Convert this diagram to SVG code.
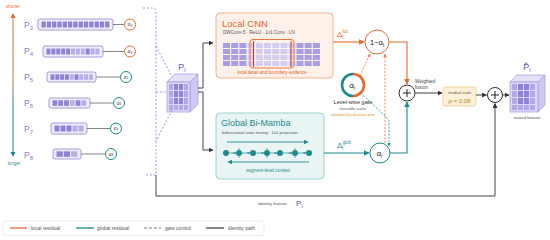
<svg xmlns="http://www.w3.org/2000/svg" width="550" height="240" viewBox="0 0 550 240">
<defs>
<style>
text{font-family:"Liberation Sans",Arial,sans-serif;}
.pl{fill:#8b74d8;font-size:8.5px;}
.bar{fill:#f1eefc;stroke:#9d8ee0;stroke-width:0.9;}
.cd{fill:#8f80d8;}
.cl{fill:#b9aeea;}
.lk{stroke:#666;stroke-width:0.8;fill:none;}
.ao{fill:#fff;stroke:#e8692f;stroke-width:1;}
.at{fill:#fff;stroke:#1f8a8a;stroke-width:1;}
.as{font-size:4.5px;fill:#333;text-anchor:middle;}
.pd{stroke:#8b74d8;stroke-width:0.8;stroke-dasharray:2,1.8;fill:none;}
.dk{stroke:#444;stroke-width:1;fill:none;}
.or{stroke:#e8692f;stroke-width:1.1;fill:none;}
.tl{stroke:#1f8a8a;stroke-width:1.1;fill:none;}
.od{stroke:#ee7a45;stroke-width:0.9;stroke-dasharray:2,1.5;fill:none;}
.td{stroke:#2a9a9a;stroke-width:0.9;stroke-dasharray:2,1.5;fill:none;}
.g1{fill:#a99de4;}
.g2{fill:#d4cdf2;}
.lg{font-size:5px;fill:#555;}
</style>
<linearGradient id="lr" gradientUnits="userSpaceOnUse" x1="0" y1="14" x2="0" y2="156">
<stop offset="0" stop-color="#e8692f"/><stop offset="0.45" stop-color="#e8692f"/><stop offset="0.6" stop-color="#1f8a8a"/><stop offset="1" stop-color="#1f8a8a"/>
</linearGradient>
<marker id="mk" viewBox="0 0 10 10" refX="9" refY="5" markerWidth="5" markerHeight="5" orient="auto"><path d="M0,0L10,5L0,10z" fill="#333"/></marker>
<marker id="mo" viewBox="0 0 10 10" refX="9" refY="5" markerWidth="5" markerHeight="5" orient="auto"><path d="M0,0L10,5L0,10z" fill="#e8692f"/></marker>
<marker id="mt" viewBox="0 0 10 10" refX="9" refY="5" markerWidth="5" markerHeight="5" orient="auto"><path d="M0,0L10,5L0,10z" fill="#1f8a8a"/></marker>
<marker id="mos" viewBox="0 0 10 10" refX="9" refY="5" markerWidth="4" markerHeight="4" orient="auto"><path d="M0,0L10,5L0,10z" fill="#ee7a45"/></marker>
<marker id="mts" viewBox="0 0 10 10" refX="9" refY="5" markerWidth="4" markerHeight="4" orient="auto"><path d="M0,0L10,5L0,10z" fill="#2a9a9a"/></marker>
</defs>
<rect width="550" height="240" fill="#fff"/>

<g id="axis">
<text x="13" y="8" font-size="4.5" fill="#e8692f" text-anchor="middle">shorter</text>
<line x1="13" y1="16" x2="13" y2="154" stroke="url(#lr)" stroke-width="1"/>
<path d="M10.5,18L13,13L15.5,18z" fill="#e8692f"/>
<path d="M10.5,152L13,157L15.5,152z" fill="#1f8a8a"/>
<text x="14" y="165" font-size="4.5" fill="#1f8a8a" text-anchor="middle">longer</text>
</g>

<g id="level-P3">
<text class="pl" x="24" y="28">P<tspan font-size="6" dy="1.5">3</tspan></text>
<rect class="bar" x="38" y="19" width="75" height="11" rx="2"/>
<g class="cd">
<rect x="41.5" y="21.5" width="4.3" height="6"/><rect x="46.8" y="21.5" width="4.3" height="6"/><rect x="52.1" y="21.5" width="4.3" height="6"/><rect x="57.4" y="21.5" width="4.3" height="6"/><rect x="62.7" y="21.5" width="4.3" height="6"/><rect x="68" y="21.5" width="4.3" height="6"/><rect x="73.3" y="21.5" width="4.3" height="6"/><rect x="78.6" y="21.5" width="4.3" height="6"/><rect x="83.9" y="21.5" width="4.3" height="6"/><rect x="89.2" y="21.5" width="4.3" height="6"/><rect x="94.5" y="21.5" width="4.3" height="6"/><rect x="99.8" y="21.5" width="4.3" height="6"/><rect x="105.1" y="21.5" width="4.3" height="6"/>
</g>
<line class="lk" x1="113" y1="24.5" x2="124.5" y2="24.5"/>
<circle class="ao" cx="130" cy="24.5" r="5.5"/>
<text class="as" x="130" y="26">α<tspan font-size="3.2" dy="0.8">3</tspan></text>
</g>

<g id="level-P4">
<text class="pl" x="24" y="54">P<tspan font-size="6" dy="1.5">4</tspan></text>
<rect class="bar" x="43" y="46" width="60" height="11" rx="2"/>
<rect class="cd" x="46.5" y="48.5" width="4" height="6"/><rect class="cd" x="51.4" y="48.5" width="4" height="6"/><rect class="cd" x="56.3" y="48.5" width="4" height="6"/><rect class="cd" x="61.2" y="48.5" width="4" height="6"/><rect class="cd" x="66.1" y="48.5" width="4" height="6"/>
<rect class="cl" x="71" y="48.5" width="4" height="6"/><rect class="cl" x="75.9" y="48.5" width="4" height="6"/><rect class="cl" x="80.8" y="48.5" width="4" height="6"/><rect class="cd" x="85.7" y="48.5" width="4" height="6"/><rect class="cl" x="90.6" y="48.5" width="4" height="6"/><rect class="cl" x="95.5" y="48.5" width="4" height="6"/>
<line class="lk" x1="103" y1="51.5" x2="124.5" y2="51.5"/>
<circle class="ao" cx="130" cy="51.5" r="5.5"/>
<text class="as" x="130" y="53">α<tspan font-size="3.2" dy="0.8">4</tspan></text>
</g>

<g id="level-P5">
<text class="pl" x="24" y="80">P<tspan font-size="6" dy="1.5">5</tspan></text>
<rect class="bar" x="47" y="72" width="49" height="10" rx="2"/>
<rect class="cd" x="50.5" y="74.3" width="4" height="5.5"/><rect class="cd" x="55.3" y="74.3" width="4" height="5.5"/><rect class="cd" x="60.1" y="74.3" width="4" height="5.5"/><rect class="cd" x="64.9" y="74.3" width="4" height="5.5"/><rect class="cl" x="69.7" y="74.3" width="4" height="5.5"/><rect class="cd" x="74.5" y="74.3" width="4" height="5.5"/><rect class="cl" x="79.3" y="74.3" width="4" height="5.5"/><rect class="cl" x="84.1" y="74.3" width="4" height="5.5"/><rect class="cl" x="88.9" y="74.3" width="4" height="5.5"/>
<line class="lk" x1="96" y1="77" x2="120.5" y2="77"/>
<circle class="at" cx="126" cy="77" r="5.5"/>
<text class="as" x="126" y="78.5">α<tspan font-size="3.2" dy="0.8">5</tspan></text>
</g>

<g id="level-P6">
<text class="pl" x="24" y="106">P<tspan font-size="6" dy="1.5">5</tspan></text>
<rect class="bar" x="49" y="98" width="41" height="10" rx="2"/>
<rect class="cd" x="52.5" y="100.3" width="4.8" height="5.5"/><rect class="cd" x="58.3" y="100.3" width="4.8" height="5.5"/><rect class="cd" x="64.1" y="100.3" width="4.8" height="5.5"/><rect class="cl" x="69.9" y="100.3" width="4.8" height="5.5"/><rect class="cd" x="75.7" y="100.3" width="4.8" height="5.5"/><rect class="cl" x="81.5" y="100.3" width="4.8" height="5.5"/>
<line class="lk" x1="90" y1="103" x2="113.5" y2="103"/>
<circle class="at" cx="119" cy="103" r="5.5"/>
<text class="as" x="119" y="104.5">α<tspan font-size="3.2" dy="0.8">6</tspan></text>
</g>

<g id="level-P7">
<text class="pl" x="24" y="132">P<tspan font-size="6" dy="1.5">7</tspan></text>
<rect class="bar" x="51" y="123" width="36" height="11" rx="2"/>
<rect class="cd" x="54.5" y="125.5" width="5" height="6"/><rect class="cd" x="60.5" y="125.5" width="5" height="6"/><rect class="cd" x="66.5" y="125.5" width="5" height="6"/><rect class="cl" x="72.5" y="125.5" width="5" height="6"/><rect class="cl" x="78.5" y="125.5" width="5" height="6"/>
<line class="lk" x1="87" y1="128.5" x2="110.5" y2="128.5"/>
<circle class="at" cx="116" cy="128.5" r="5.5"/>
<text class="as" x="116" y="130">α<tspan font-size="3.2" dy="0.8">7</tspan></text>
</g>

<g id="level-P8">
<text class="pl" x="24" y="158">P<tspan font-size="6" dy="1.5">8</tspan></text>
<rect class="bar" x="53" y="149" width="28" height="10" rx="2"/>
<rect class="cd" x="56.5" y="151.3" width="6.3" height="5.5"/><rect class="cd" x="63.8" y="151.3" width="6.3" height="5.5"/><rect class="cl" x="71.1" y="151.3" width="6.3" height="5.5"/>
<line class="lk" x1="81" y1="154" x2="105.5" y2="154"/>
<circle class="at" cx="111" cy="154" r="5.5"/>
<text class="as" x="111" y="155.5">α<tspan font-size="3.2" dy="0.8">8</tspan></text>
</g>

<g id="input-cube">
<text x="182" y="70" font-family="Liberation Serif,serif" font-size="9" fill="#6a55c0" text-anchor="middle">P<tspan font-size="6" dy="2">l</tspan></text>
<path d="M167,82L175,74L198,74L190,82z" fill="#e6e0f8" stroke="#a597e2" stroke-width="0.7"/>
<path d="M190,82L198,74L198,104L190,112z" fill="#cfc6f1" stroke="#a597e2" stroke-width="0.7"/>
<rect x="167" y="82" width="23" height="30" fill="#ddd6f6" stroke="#a597e2" stroke-width="0.7"/>
<g fill="#b3a7e8">
<rect x="169" y="84" width="4" height="6"/><rect x="174" y="84" width="4" height="6" fill="#8f80d8"/><rect x="179" y="84" width="4" height="6" fill="#8f80d8"/><rect x="184" y="84" width="4" height="6"/>
<rect x="169" y="91" width="4" height="6"/><rect x="174" y="91" width="4" height="6" fill="#8f80d8"/><rect x="179" y="91" width="4" height="6" fill="#8f80d8"/><rect x="184" y="91" width="4" height="6"/>
<rect x="169" y="98" width="4" height="6"/><rect x="174" y="98" width="4" height="6" fill="#8f80d8"/><rect x="179" y="98" width="4" height="6" fill="#8f80d8"/><rect x="184" y="98" width="4" height="6"/>
<rect x="169" y="105" width="4" height="5"/><rect x="174" y="105" width="4" height="5"/><rect x="179" y="105" width="4" height="5"/><rect x="184" y="105" width="4" height="5"/>
</g>
</g>

<g id="local-cnn">
<rect x="216" y="13" width="117" height="65" rx="4" fill="#fdf1ea" stroke="#f2ab85" stroke-width="0.9"/>
<text x="222" y="26.5" font-size="9.5" fill="#e8622a">Local CNN</text>
<text x="223" y="34" font-size="4.6" fill="#555">DWConv-5  ·  ReLU  ·  1x1 Conv  ·  LN</text>
<g>
<g class="g1">
<rect x="223" y="43" width="7" height="5"/><rect x="231.2" y="43" width="7" height="5"/><rect x="239.4" y="43" width="7" height="5"/>
<rect x="223" y="49" width="7" height="5"/><rect x="231.2" y="49" width="7" height="5"/><rect x="239.4" y="49" width="7" height="5"/>
<rect x="223" y="55" width="7" height="5"/><rect x="231.2" y="55" width="7" height="5"/><rect x="239.4" y="55" width="7" height="5"/>
<rect x="223" y="61" width="7" height="5"/><rect x="231.2" y="61" width="7" height="5"/><rect x="239.4" y="61" width="7" height="5"/>
<rect x="296.5" y="43" width="7" height="5"/><rect x="304.7" y="43" width="7" height="5"/><rect x="312.9" y="43" width="7" height="5"/>
<rect x="296.5" y="49" width="7" height="5"/><rect x="304.7" y="49" width="7" height="5"/><rect x="312.9" y="49" width="7" height="5"/>
<rect x="296.5" y="55" width="7" height="5"/><rect x="304.7" y="55" width="7" height="5"/><rect x="312.9" y="55" width="7" height="5"/>
<rect x="296.5" y="61" width="7" height="5"/><rect x="304.7" y="61" width="7" height="5"/><rect x="312.9" y="61" width="7" height="5"/>
</g>
<g class="g2">
<rect x="247.6" y="43" width="7" height="5"/><rect x="255.8" y="43" width="7" height="5"/><rect x="264" y="43" width="7" height="5"/><rect x="272.2" y="43" width="7" height="5"/><rect x="280.4" y="43" width="7" height="5"/><rect x="288.6" y="43" width="7" height="5"/>
<rect x="247.6" y="49" width="7" height="5"/><rect x="255.8" y="49" width="7" height="5"/><rect x="264" y="49" width="7" height="5"/><rect x="272.2" y="49" width="7" height="5"/><rect x="280.4" y="49" width="7" height="5"/><rect x="288.6" y="49" width="7" height="5"/>
<rect x="247.6" y="55" width="7" height="5"/><rect x="255.8" y="55" width="7" height="5"/><rect x="264" y="55" width="7" height="5"/><rect x="272.2" y="55" width="7" height="5"/><rect x="280.4" y="55" width="7" height="5"/><rect x="288.6" y="55" width="7" height="5"/>
<rect x="247.6" y="61" width="7" height="5"/><rect x="255.8" y="61" width="7" height="5"/><rect x="264" y="61" width="7" height="5"/><rect x="272.2" y="61" width="7" height="5"/><rect x="280.4" y="61" width="7" height="5"/><rect x="288.6" y="61" width="7" height="5"/>
</g>
</g>
<rect x="250" y="39.5" width="44" height="28.5" rx="3" fill="none" stroke="#e8692f" stroke-width="0.9"/>
<line x1="253.5" y1="41" x2="253.5" y2="67" stroke="#c0392b" stroke-width="1"/>
<line x1="291" y1="41" x2="291" y2="67" stroke="#c0392b" stroke-width="1"/>
<text x="272" y="74" font-size="4.5" fill="#e8622a" text-anchor="middle">local detail and boundary evidence</text>
</g>

<g id="global-bimamba">
<rect x="216" y="113" width="108" height="66" rx="4" fill="#e9f5f5" stroke="#93cccc" stroke-width="0.9"/>
<text x="221" y="126" font-size="9" fill="#1f8a8a">Global Bi-Mamba</text>
<text x="222" y="133.5" font-size="4.2" fill="#555">bidirectional state mixing  ·  1x1 projection</text>
<line x1="227" y1="142" x2="308" y2="142" stroke="#1f8a8a" stroke-width="0.9" marker-end="url(#mt)"/>
<line x1="309" y1="162" x2="228" y2="162" stroke="#1f8a8a" stroke-width="0.9" marker-end="url(#mt)"/>
<g stroke="#1f8a8a" stroke-width="0.7">
<line x1="239" y1="148" x2="239" y2="158"/><line x1="267" y1="148" x2="267" y2="158"/><line x1="295" y1="148" x2="295" y2="158"/>
</g>
<g stroke="#1f8a8a" stroke-width="0.7" marker-end="url(#mts)">
<line x1="229" y1="153" x2="236" y2="153"/><line x1="242" y1="153" x2="250" y2="153"/><line x1="256" y1="153" x2="264" y2="153"/><line x1="270" y1="153" x2="277" y2="153"/><line x1="283" y1="153" x2="292" y2="153"/><line x1="298" y1="153" x2="306" y2="153"/>
</g>
<g fill="#1f8a8a">
<circle cx="226" cy="153" r="3"/><circle cx="239" cy="153" r="3"/><circle cx="253" cy="153" r="3"/><circle cx="267" cy="153" r="3"/><circle cx="280" cy="153" r="3"/><circle cx="295" cy="153" r="3"/><circle cx="309" cy="153" r="3"/>
</g>
<text x="268" y="172" font-size="4.5" fill="#1f8a8a" text-anchor="middle">segment-level context</text>
</g>

<g id="level-gate">
<circle cx="353" cy="85" r="11" fill="#fff"/>
<path d="M353,74A11,11 0 0 0 353,96" fill="none" stroke="#1f8a8a" stroke-width="2.6"/>
<path d="M353,74A11,11 0 0 1 353,96" fill="none" stroke="#e8692f" stroke-width="2.6"/>
<text x="352" y="88" font-family="Liberation Serif,serif" font-size="8" fill="#222" text-anchor="middle">α<tspan font-size="5" dy="1.5">l</tspan></text>
<text x="353" y="104" font-size="5.6" fill="#333" text-anchor="middle">Level-wise gate</text>
<text x="353" y="110" font-size="3.8" fill="#666" text-anchor="middle">learnable scalar</text>
<text x="353" y="115.5" font-size="3.8" fill="#d9962e" text-anchor="middle">initialized by duration prior</text>
</g>

<g id="one-minus-alpha">
<circle cx="377" cy="42" r="12" fill="#fff" stroke="#e8692f" stroke-width="1"/>
<text x="377" y="45" font-family="Liberation Serif,serif" font-size="7.5" fill="#222" text-anchor="middle">1−α<tspan font-size="5" dy="1.5">l</tspan></text>
</g>

<g id="alpha">
<circle cx="380" cy="153" r="10" fill="#fff" stroke="#1f8a8a" stroke-width="1"/>
<text x="379.5" y="156" font-family="Liberation Serif,serif" font-size="7.5" fill="#222" text-anchor="middle">α<tspan font-size="5" dy="1.5">l</tspan></text>
</g>

<g id="fusion-plus">
<circle cx="407" cy="93" r="8" fill="#fff" stroke="#333" stroke-width="1"/>
<path d="M403,93H411M407,89V97" stroke="#222" stroke-width="1"/>
<text x="415" y="82.5" font-size="4.8" fill="#444">Weighted</text>
<text x="415" y="88.5" font-size="4.8" fill="#444">fusion</text>
</g>

<g id="residual-scale">
<rect x="443" y="87" width="33" height="19" rx="2.5" fill="#fdf1d8" stroke="#e8c98a" stroke-width="0.8"/>
<text x="459.5" y="94" font-size="3.8" fill="#555" text-anchor="middle">residual scale</text>
<text x="459.5" y="103" font-size="6" fill="#b8862a" text-anchor="middle"><tspan font-style="italic">ρ</tspan> = 0.08</text>
</g>

<g id="residual-plus">
<circle cx="495" cy="95" r="7.5" fill="#fff" stroke="#333" stroke-width="1"/>
<path d="M491,95H499M495,91V99" stroke="#222" stroke-width="1"/>
</g>

<g id="output-cube">
<text x="527" y="70" font-family="Liberation Serif,serif" font-size="9" fill="#6a55c0" text-anchor="middle">P̂<tspan font-size="6" dy="2">l</tspan></text>
<path d="M510,82L517,75L545,75L538,82z" fill="#e6e0f8" stroke="#a597e2" stroke-width="0.7"/>
<path d="M538,82L545,75L545,105L538,112z" fill="#cfc6f1" stroke="#a597e2" stroke-width="0.7"/>
<rect x="510" y="82" width="28" height="30" fill="#ddd6f6" stroke="#a597e2" stroke-width="0.7"/>
<g fill="#b3a7e8">
<rect x="512" y="84" width="5" height="6"/><rect x="518" y="84" width="5" height="6" fill="#8f80d8"/><rect x="524" y="84" width="5" height="6" fill="#8f80d8"/><rect x="530" y="84" width="5" height="6"/>
<rect x="512" y="91" width="5" height="6"/><rect x="518" y="91" width="5" height="6" fill="#8f80d8"/><rect x="524" y="91" width="5" height="6" fill="#8f80d8"/><rect x="530" y="91" width="5" height="6"/>
<rect x="512" y="98" width="5" height="6"/><rect x="518" y="98" width="5" height="6" fill="#8f80d8"/><rect x="524" y="98" width="5" height="6" fill="#8f80d8"/><rect x="530" y="98" width="5" height="6"/>
<rect x="512" y="105" width="5" height="5"/><rect x="518" y="105" width="5" height="5"/><rect x="524" y="105" width="5" height="5"/><rect x="530" y="105" width="5" height="5"/>
</g>
<text x="527" y="119" font-size="4.3" fill="#555" text-anchor="middle">routed feature</text>
</g>

<g id="connectors">
<path class="pd" d="M143,8H152Q156,8 156,12V175H145"/>
<line class="pd" x1="156" y1="46" x2="172" y2="77"/>
<line class="pd" x1="156" y1="92" x2="167" y2="92"/>
<line class="pd" x1="172" y1="110" x2="156" y2="141"/>
<path class="dk" d="M198,88H203V43H213" marker-end="url(#mk)"/>
<path class="dk" d="M198,92H203V150H213" marker-end="url(#mk)"/>
<path class="or" d="M333,42H364" marker-end="url(#mo)"/>
<text x="337" y="37" font-family="Liberation Serif,serif" font-size="8" fill="#e8692f">Δ<tspan font-size="5" dy="1.5">l</tspan><tspan font-size="4.5" dy="-6" dx="-1">loc</tspan></text>
<path class="or" d="M389,42H407V84" marker-end="url(#mo)"/>
<path class="tl" d="M324,153H369" marker-end="url(#mt)"/>
<text x="337" y="148" font-family="Liberation Serif,serif" font-size="8" fill="#1f8a8a">Δ<tspan font-size="5" dy="1.5">l</tspan><tspan font-size="4.5" dy="-6" dx="-1">glob</tspan></text>
<path class="tl" d="M390,153H407V102" marker-end="url(#mt)"/>
<path class="od" d="M360,76L370,54" marker-end="url(#mos)"/>
<path class="od" d="M385,143V54" marker-end="url(#mos)"/>
<path class="td" d="M361,93L389,120V146" marker-end="url(#mts)"/>
<path class="dk" d="M415,93H442" marker-end="url(#mk)"/>
<path class="dk" d="M476,95H486.5" marker-end="url(#mk)"/>
<path class="dk" d="M502.5,95H509" marker-end="url(#mk)"/>
<path class="dk" d="M156,175V196H495V103.5" marker-end="url(#mk)"/>
<text x="258" y="205" font-size="4.4" fill="#555">identity feature</text>
<text x="296" y="206" font-family="Liberation Serif,serif" font-size="8" fill="#6a55c0">P<tspan font-size="5" dy="1.5">l</tspan></text>
</g>

<g id="legend">
<rect x="3" y="221" width="261" height="14.5" rx="2" fill="#fff" stroke="#e3e3e3" stroke-width="0.7"/>
<line x1="10" y1="228" x2="27" y2="228" stroke="#e8692f" stroke-width="1.3"/>
<text class="lg" x="31" y="229.8">local residual</text>
<line x1="76" y1="228" x2="94" y2="228" stroke="#1f8a8a" stroke-width="1.3"/>
<text class="lg" x="97" y="229.8">global residual</text>
<line x1="144" y1="228" x2="161" y2="228" stroke="#777" stroke-width="1" stroke-dasharray="3,2"/>
<text class="lg" x="165" y="229.8">gate control</text>
<line x1="206" y1="228" x2="224" y2="228" stroke="#444" stroke-width="1.3"/>
<text class="lg" x="228" y="229.8">identity path</text>
</g>
</svg>
